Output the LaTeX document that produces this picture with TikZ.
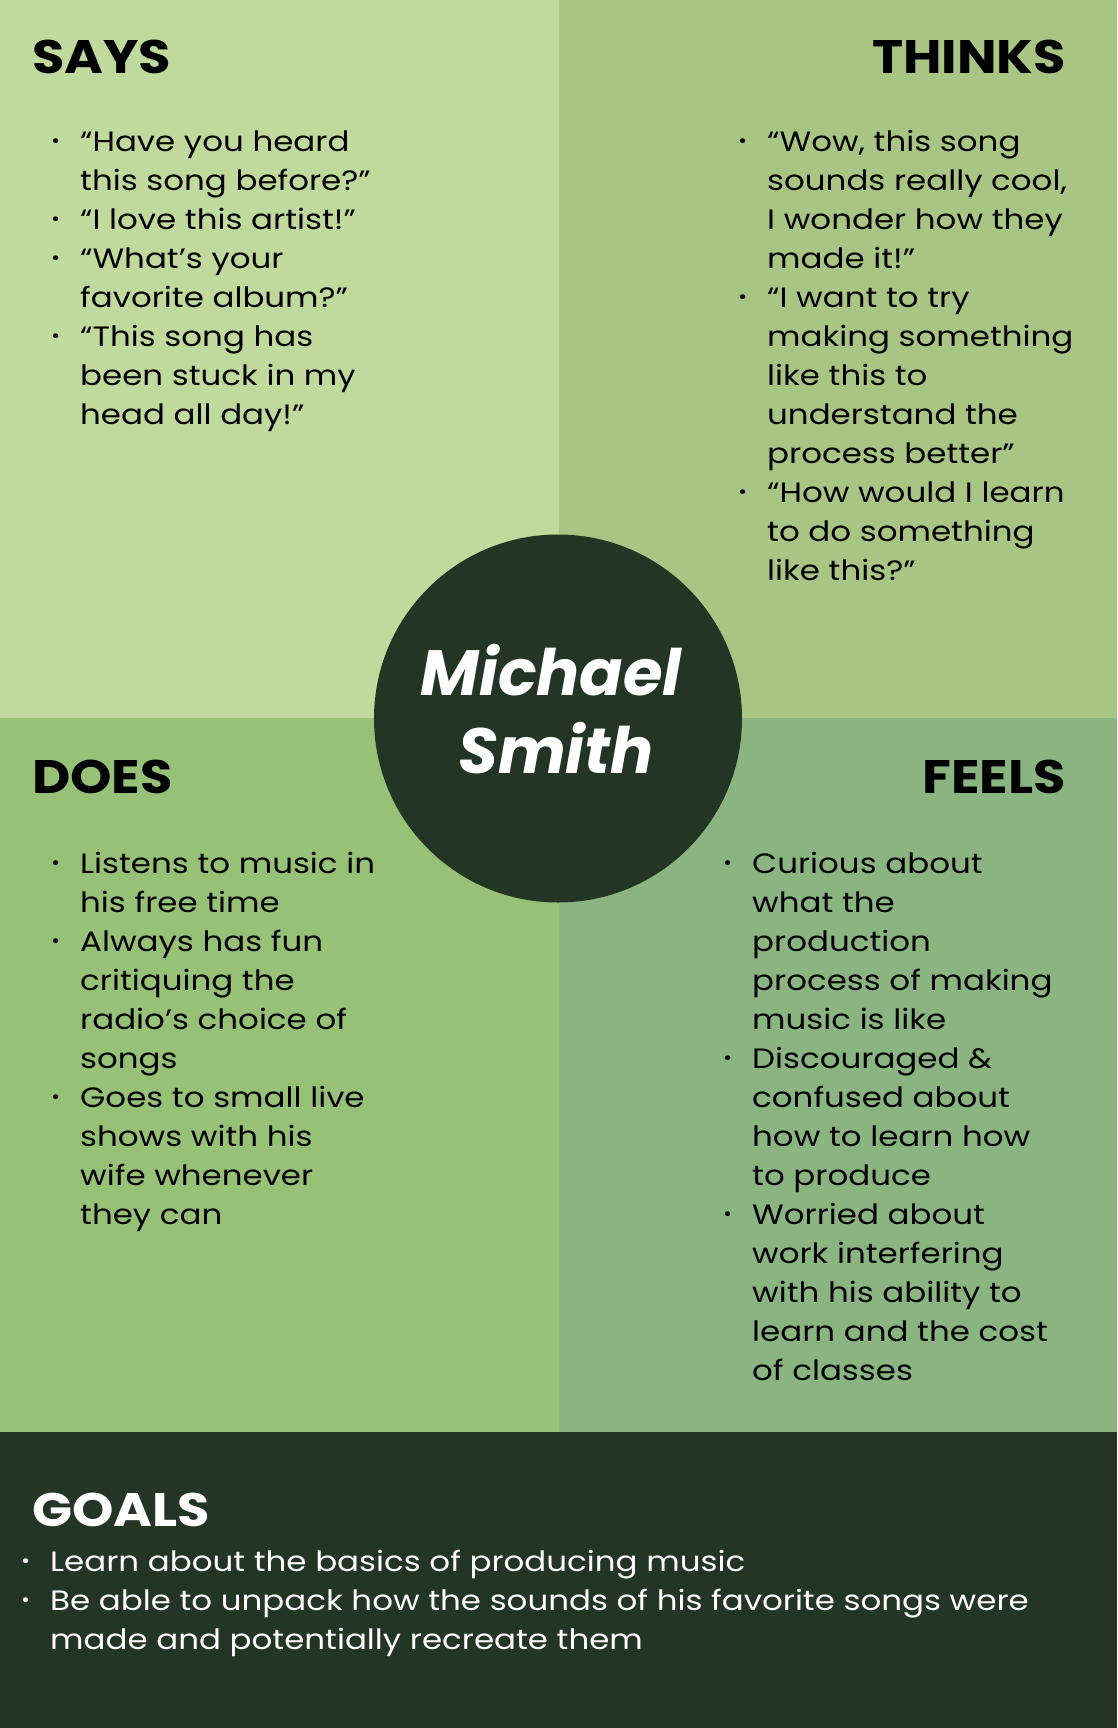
\documentclass[tikz,border=0pt]{standalone}
\usepackage{fontspec}
\setmainfont{Poppins}[FakeStretch=1.16]
\newfontfamily\headfont{Poppins}[FakeStretch=1.12]
\newfontfamily\namefont{Poppins}
\usetikzlibrary{positioning}
\definecolor{saysgreen}{HTML}{BFDA9C}
\definecolor{thinksgreen}{HTML}{A8C584}
\definecolor{doesgreen}{HTML}{97C176}
\definecolor{feelsgreen}{HTML}{8AB581}
\definecolor{darkgreen}{HTML}{233625}
\newcommand{\bl}{\makebox[29pt][l]{\raisebox{0.25ex}{\fontsize{19}{19}\selectfont\textbullet}}}

\begin{document}
\begin{tikzpicture}[
  x=1pt, y=1pt,
  heading/.style={font=\fontsize{47}{47}\headfont\bfseries, inner sep=0pt},
  listtext/.style={font=\fontsize{28}{39}\selectfont, inner sep=0pt, anchor=base west},
  nametext/.style={font=\fontsize{64}{78}\namefont\bfseries\itshape, text=white, inner sep=0pt, anchor=base},
  namecircle/.style={circle, fill=darkgreen, minimum size=368pt, inner sep=0pt},
]
\useasboundingbox (0,0) rectangle (1117,-1728);

% ---- quadrants and goals band ----
\fill[saysgreen]   (0,0)        rectangle (558.5,-718);
\fill[thinksgreen] (558.5,0)    rectangle (1117,-718);
\fill[doesgreen]   (0,-718)     rectangle (558.5,-1432);
\fill[feelsgreen]  (558.5,-718) rectangle (1117,-1432);
\fill[darkgreen]   (0,-1432)    rectangle (1117,-1728);

% ---- headings ----
\node[heading, anchor=base west] (says)   at (32,-73.3)   {SAYS};
\node[heading, anchor=base east] (thinks) at (1066,-73.3) {THINKS};
\node[heading, anchor=base west] (does)   at (32,-793)    {DOES};
\node[heading, anchor=base east] (feels)  at (1066,-793)  {FEELS};
\node[heading, anchor=base west, text=white] (goals) at (32,-1526.7) {GOALS};

% ---- lists ----
\node[listtext] (saysList) at (51,-151.5) {\begin{tabular}[t]{@{}l@{}l@{}}
\bl & “Have you heard\\
    & this song before?”\\
\bl & “I love this artist!”\\
\bl & “What’s your\\
    & favorite album?”\\
\bl & “This song has\\
    & been stuck in my\\
    & head all day!”
\end{tabular}};

\node[listtext] (thinksList) at (738,-151.5) {\begin{tabular}[t]{@{}l@{}l@{}}
\bl & “Wow, this song\\
    & sounds really cool,\\
    & I wonder how they\\
    & made it!”\\
\bl & “I want to try\\
    & making something\\
    & like this to\\
    & understand the\\
    & process better”\\
\bl & “How would I learn\\
    & to do something\\
    & like this?”
\end{tabular}};

\node[listtext] (doesList) at (51,-873) {\begin{tabular}[t]{@{}l@{}l@{}}
\bl & Listens to music in\\
    & his free time\\
\bl & Always has fun\\
    & critiquing the\\
    & radio’s choice of\\
    & songs\\
\bl & Goes to small live\\
    & shows with his\\
    & wife whenever\\
    & they can
\end{tabular}};

\node[listtext] (feelsList) at (723,-873) {\begin{tabular}[t]{@{}l@{}l@{}}
\bl & Curious about\\
    & what the\\
    & production\\
    & process of making\\
    & music is like\\
\bl & Discouraged \&\\
    & confused about\\
    & how to learn how\\
    & to produce\\
\bl & Worried about\\
    & work interfering\\
    & with his ability to\\
    & learn and the cost\\
    & of classes
\end{tabular}};

\node[listtext, text=white] (goalsList) at (21,-1571.7) {\begin{tabular}[t]{@{}l@{}l@{}}
\bl & Learn about the basics of producing music\\
\bl & Be able to unpack how the sounds of his favorite songs were\\
    & made and potentially recreate them
\end{tabular}};

% ---- persona in the middle ----
\node[namecircle] (persona) at (558,-718.5) {};
\node[nametext] (personaFirst) at (551,-695) {Michael};
\node[nametext] (personaLast)  at (556,-773) {Smith};

\end{tikzpicture}
\end{document}
